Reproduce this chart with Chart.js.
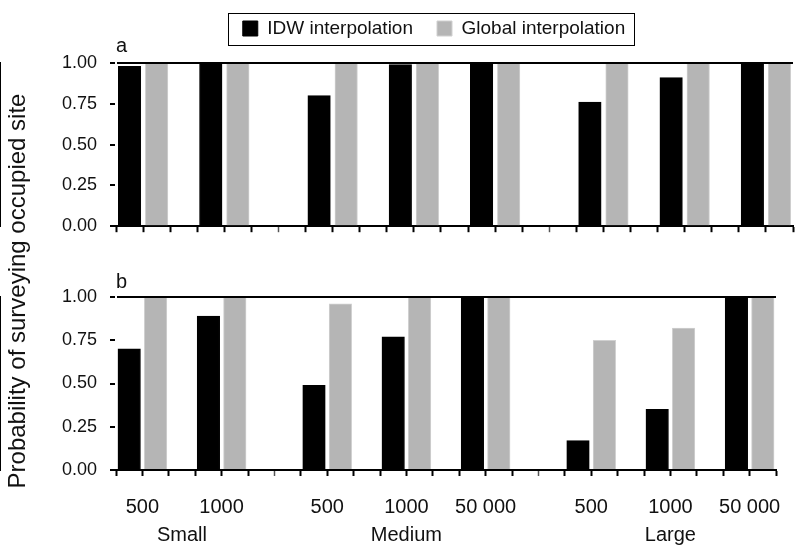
<!DOCTYPE html>
<html>
<head>
<meta charset="utf-8">
<script src="https://cdn.jsdelivr.net/npm/chart.js@4.4.1/dist/chart.umd.min.js"></script>
<style>
  html, body { margin: 0; padding: 0; background: #fff; }
  body { width: 795px; height: 545px; position: relative; overflow: hidden; }
  canvas { position: absolute; left: 0; }
  #ytitle {
    position: absolute; left: -193px; top: 277px; width: 420px; height: 28px;
    line-height: 28px; text-align: center; font-family: 'Liberation Sans', Arial, sans-serif;
    font-size: 24px; color: #111; transform: rotate(-90deg); transform-origin: 50% 50%;
    white-space: nowrap;
  }
</style>
</head>
<body>
<canvas id="ca" width="795" height="250" style="top:0px"></canvas>
<canvas id="cb" width="795" height="290" style="top:255px"></canvas>
<div id="ytitle">Probability of surveying occupied site</div>
<script>
// ---- data ----
const groupNames = ['Small', 'Medium', 'Large'];
const groups = ['Small', 'Small', 'Medium', 'Medium', 'Medium', 'Large', 'Large', 'Large'];
const gridSizes = ['500', '1000', '500', '1000', '50 000', '500', '1000', '50 000'];
const seriesNames = ['IDW interpolation', 'Global interpolation'];
const idwA = [0.98, 1.00, 0.80, 0.99, 1.00, 0.76, 0.91, 1.00];
const globalA = [1.00, 1.00, 1.00, 1.00, 1.00, 1.00, 1.00, 1.00];
const idwB = [0.70, 0.89, 0.49, 0.77, 1.00, 0.17, 0.35, 1.00];
const globalB = [1.00, 1.00, 0.96, 1.00, 1.00, 0.75, 0.82, 1.00];
const yTickValues = [0, 0.25, 0.5, 0.75, 1];
const panelLabels = ['a', 'b'];

// ---- layout helpers ----
const slotCount = 25;
const centers = groups.map((g, i) => 1 + 3 * i + groupNames.indexOf(g));
const groupCenters = groupNames.map(n => {
  const c = centers.filter((_, i) => groups[i] === n);
  return c.reduce((a, b) => a + b, 0) / c.length;
});
const minorTicks = groupNames.slice(1).map(n => centers[groups.indexOf(n)] - 2);
const labelAt = {};
centers.forEach((c, i) => { labelAt[c] = gridSizes[i]; });
const toPts = (vals, side) => vals.map((v, i) => ({ x: centers[i] + side * 0.5, y: v }));

Chart.defaults.font.family = "'Liberation Sans', Arial, Helvetica, sans-serif";
Chart.defaults.color = '#111';

const BLACK = '#000000';
const GRAY = '#b5b5b5';

function datasets(idw, glob) {
  return [
    { label: seriesNames[0], data: toPts(idw, -1), backgroundColor: BLACK, borderColor: BLACK, borderWidth: 1, grouped: false, barThickness: 22.5 },
    { label: seriesNames[1], data: toPts(glob, 1), backgroundColor: GRAY, borderColor: '#d0d0d0', borderWidth: 1, grouped: false, barThickness: 22.5 }
  ];
}

function yAxis() {
  return {
    type: 'linear', min: 0, max: 1,
    afterFit: s => { s.width = 116; },
    afterBuildTicks: s => { s.ticks = yTickValues.map(v => ({ value: v })); },
    ticks: { padding: 13, font: { size: 18 }, color: '#111', callback: v => Number(v).toFixed(2) },
    grid: {
      z: 1,
      color: c => (c.tick && c.tick.value === 1) ? '#000' : 'rgba(0,0,0,0)',
      lineWidth: 2, tickColor: '#000', tickLength: 6, tickWidth: 2
    },
    border: { display: true, color: '#000', width: 2 }
  };
}

function xAxis(showLabels) {
  return {
    type: 'linear', min: 0, max: slotCount, offset: false, position: 'bottom',
    afterFit: showLabels ? (s => { s.height = 50; }) : undefined,
    ticks: {
      display: showLabels, stepSize: 1, autoSkip: false, maxRotation: 0, minRotation: 0,
      padding: 19, font: { size: 20 }, color: '#111',
      callback: v => (labelAt[v] !== undefined ? labelAt[v] : '')
    },
    grid: {
      offset: false, drawOnChartArea: false, tickLength: 6,
      tickWidth: c => (c.tick && minorTicks.includes(c.tick.value)) ? 1.5 : 2,
      tickColor: c => (c.tick && minorTicks.includes(c.tick.value)) ? '#555' : '#000'
    },
    border: { display: true, color: '#000', width: 2 }
  };
}

const legendFrame = {
  id: 'legendFrame',
  afterLayout(chart, args, opts) {
    const lg = chart.legend;
    if (lg && opts && opts.dx) { lg.left += opts.dx; lg.right += opts.dx; }
  },
  afterDraw(chart) {
    const lg = chart.legend;
    if (!lg || !lg.options.display || !lg.legendHitBoxes || !lg.legendHitBoxes.length) return;
    const hb = lg.legendHitBoxes;
    const first = hb[0], last = hb[hb.length - 1];
    const ctx = chart.ctx;
    const l = Math.round(first.left - 15) + 0.5;
    const r = Math.round(last.left + last.width + 9) + 0.5;
    const t = Math.round(first.top - 6) + 0.5;
    const h = Math.round(first.height + 13);
    ctx.save();
    ctx.strokeStyle = '#000';
    ctx.lineWidth = 1;
    ctx.strokeRect(l, t, r - l, h);
    ctx.restore();
  }
};

// ---- panel a ----
new Chart(document.getElementById('ca'), {
  type: 'bar',
  data: { datasets: datasets(idwA, globalA) },
  options: {
    responsive: false, animation: false, events: [],
    layout: { padding: { left: 0, right: 2, top: -5, bottom: 6 } },
    plugins: {
      tooltip: { enabled: false },
      legendFrame: { dx: 37.5 },
      legend: {
        display: true, position: 'top',
        labels: { font: { size: 19 }, boxWidth: 15, boxHeight: 15, padding: 24, color: '#111' }
      },
      title: {
        display: true, text: panelLabels[0], position: 'top', align: 'start', fullSize: false, weight: 100,
        font: { size: 20, weight: 'normal', lineHeight: 1.2 }, color: '#111',
        padding: { top: -14, bottom: 5 }
      }
    },
    scales: { x: xAxis(false), y: yAxis() }
  },
  plugins: [legendFrame]
});

// ---- panel b ----
new Chart(document.getElementById('cb'), {
  type: 'bar',
  data: { datasets: datasets(idwB, globalB) },
  options: {
    responsive: false, animation: false, events: [],
    layout: { padding: { left: 0, right: 2, top: 0, bottom: 0 } },
    plugins: {
      tooltip: { enabled: false },
      legend: { display: false },
      title: {
        display: true, text: panelLabels[1], position: 'top', align: 'start', fullSize: false,
        font: { size: 20, weight: 'normal', lineHeight: 1.2 }, color: '#111',
        padding: { top: 15, bottom: 3 }
      }
    },
    scales: {
      x: xAxis(true),
      x2: {
        type: 'linear', min: 0, max: slotCount, offset: false, position: 'bottom', weight: 1,
        afterFit: s => { s.height = 25; },
        afterBuildTicks: s => { s.ticks = groupCenters.map(v => ({ value: v })); },
        ticks: {
          autoSkip: false, maxRotation: 0, minRotation: 0, padding: 3, font: { size: 20 }, color: '#111',
          callback: (v, i) => groupNames[i]
        },
        grid: { display: false, drawTicks: false, drawOnChartArea: false },
        border: { display: false }
      },
      y: yAxis()
    }
  }
});
</script>
</body>
</html>
